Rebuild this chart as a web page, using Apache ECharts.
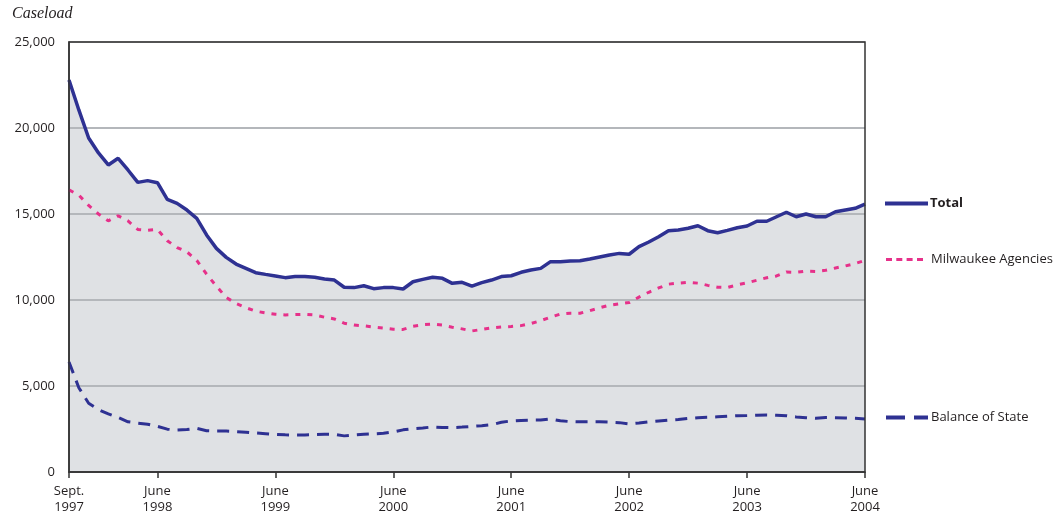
<!DOCTYPE html>
<html>
<head>
<meta charset="utf-8">
<script src="https://cdn.jsdelivr.net/npm/echarts@6/dist/echarts.min.js"></script>
<style>
  html, body { margin: 0; padding: 0; background: #fff; }
  #chart { width: 1059px; height: 514px; }
</style>
</head>
<body>
<div id="chart"></div>
<script>
// monthly caseload, Sept. 1997 - June 2004
const total = [
  22790, 21050, 19420, 18550, 17850, 18240, 17560, 16840, 16940, 16820,
  15850, 15620, 15230, 14750, 13780, 13000, 12480, 12090, 11840, 11590,
  11490, 11400, 11300, 11360, 11360, 11320, 11220, 11160, 10740, 10720,
  10830, 10660, 10720, 10720, 10640, 11060, 11200, 11320, 11260, 10970,
  11030, 10810, 11010, 11160, 11360, 11410, 11610, 11740, 11840, 12230,
  12230, 12270, 12280, 12380, 12500, 12620, 12710, 12660, 13100, 13370,
  13680, 14030, 14070, 14170, 14320, 14030, 13910, 14050, 14200, 14300,
  14580, 14580, 14840, 15100, 14840, 15000, 14840, 14840, 15130, 15230,
  15330, 15580
]
const milwaukee = [
  16400, 16100, 15500, 15000, 14600, 14900, 14600, 14100, 14050, 14100,
  13450, 13050, 12800, 12300, 11500, 10800, 10150, 9800, 9550, 9350,
  9250, 9170, 9130, 9150, 9170, 9130, 9000, 8900, 8650, 8540,
  8500, 8430, 8370, 8300, 8290, 8470, 8560, 8600, 8540, 8420,
  8320, 8200, 8290, 8380, 8430, 8460, 8510, 8630, 8800, 9000,
  9180, 9230, 9230, 9380, 9550, 9700, 9780, 9850, 10170, 10450,
  10700, 10920, 10980, 11030, 10980, 10850, 10740, 10730, 10880, 11000,
  11150, 11290, 11400, 11630, 11610, 11680, 11660, 11730, 11860, 11980,
  12120, 12300
]
const balance = [
  6400, 4900, 4000, 3620, 3380, 3170, 2920, 2840, 2780, 2650,
  2490, 2440, 2470, 2540, 2400, 2380, 2380, 2350, 2310, 2270,
  2230, 2190, 2160, 2150, 2150, 2170, 2190, 2190, 2100, 2150,
  2190, 2220, 2250, 2330, 2450, 2520, 2560, 2620, 2590, 2580,
  2610, 2650, 2690, 2750, 2890, 2970, 3000, 3020, 3020, 3080,
  2980, 2930, 2920, 2920, 2920, 2900, 2870, 2800, 2850, 2920,
  2970, 3020, 3050, 3110, 3160, 3180, 3210, 3240, 3270, 3280,
  3300, 3310, 3300, 3270, 3200, 3160, 3120, 3170, 3160, 3140,
  3120, 3080
]

const tickLabels = {
  '1997-09': 'Sept.\n1997',
  '1998-06': 'June\n1998',
  '1999-06': 'June\n1999',
  '2000-06': 'June\n2000',
  '2001-06': 'June\n2001',
  '2002-06': 'June\n2002',
  '2003-06': 'June\n2003',
  '2004-06': 'June\n2004'
}

// month keys from 1997-09 to 2004-06
const months = []
for (let y = 1997, m = 9; y < 2004 || (y === 2004 && m <= 6); ) {
  months.push(y + '-' + String(m).padStart(2, '0'))
  m++
  if (m > 12) { m = 1; y++ }
}

const chart = echarts.init(document.getElementById('chart'))
const font = '"Open Sans", sans-serif'
const blue = '#2e3192'
const pink = '#e6318a'

const isTick = (index, value) => tickLabels[value] !== undefined

const legendText = (bold, shift) => ({
  fontFamily: font, fontSize: 13, color: '#231f20',
  fontWeight: bold ? 'bold' : 'normal',
  padding: [0, 0, 0, shift]
})

const option = {
  animation: false,
  graphic: [{
    type: 'text',
    left: 12,
    top: 6,
    style: {
      text: 'Caseload',
      font: 'italic 16px "Liberation Serif", serif',
      fill: '#231f20'
    }
  }],
  grid: {
    left: 69,
    right: 194,
    top: 42,
    bottom: 42,
    outerBoundsMode: 'none',
    show: true,
    z: 4,
    backgroundColor: 'transparent',
    borderColor: '#333',
    borderWidth: 1.5
  },
  legend: [
    {
      data: ['Total'],
      left: 885, top: 197, padding: 0,
      icon: 'path://M0,0H43V4H0Z',
      itemWidth: 43, itemHeight: 4,
      textStyle: legendText(true, -3)
    },
    {
      data: ['Milwaukee Agencies'],
      left: 886, top: 253, padding: 0,
      icon: 'path://M0,0H6V3H0Z M10.3,0H16.3V3H10.3Z M20.6,0H26.6V3H20.6Z M31,0H37V3H31Z',
      itemWidth: 37, itemHeight: 3,
      textStyle: legendText(false, 3)
    },
    {
      data: ['Balance of State'],
      left: 886, top: 411, padding: 0,
      icon: 'path://M0,0H19V4H0Z M28,0H42V4H28Z',
      itemWidth: 42, itemHeight: 4,
      textStyle: legendText(false, -2)
    }
  ],
  xAxis: {
    type: 'category',
    boundaryGap: false,
    data: months,
    z: 2,
    axisLine: { lineStyle: { color: '#333', width: 1.5 } },
    axisTick: { show: true, interval: isTick, length: 6, lineStyle: { color: '#333', width: 1.5 } },
    axisLabel: {
      interval: isTick,
      formatter: v => tickLabels[v] || '',
      fontFamily: font,
      fontSize: 13,
      lineHeight: 16,
      color: '#231f20',
      margin: 11
    },
    splitLine: { show: false }
  },
  yAxis: {
    type: 'value',
    min: 0,
    max: 25000,
    interval: 5000,
    z: 2,
    axisLine: { show: true, lineStyle: { color: '#333', width: 1.5 } },
    axisTick: { show: false },
    axisLabel: { fontFamily: font, fontSize: 13, color: '#231f20', margin: 14 },
    splitLine: { lineStyle: { color: '#b4b7bb', width: 2 } }
  },
  series: [
    {
      name: 'area',
      type: 'line',
      data: total,
      symbol: 'none',
      z: 1,
      silent: true,
      lineStyle: { width: 0 },
      areaStyle: { color: '#dfe1e4', opacity: 1 }
    },
    {
      name: 'Total',
      type: 'line',
      data: total,
      symbol: 'none',
      z: 3,
      color: blue,
      lineStyle: { color: blue, width: 3.5 }
    },
    {
      name: 'Milwaukee Agencies',
      type: 'line',
      data: milwaukee,
      symbol: 'none',
      z: 3,
      color: pink,
      lineStyle: { color: pink, width: 3, type: [5, 7] }
    },
    {
      name: 'Balance of State',
      type: 'line',
      data: balance,
      symbol: 'none',
      z: 3,
      color: blue,
      lineStyle: { color: blue, width: 3, type: [12, 8] }
    }
  ]
}

chart.setOption(option)
</script>
</body>
</html>
